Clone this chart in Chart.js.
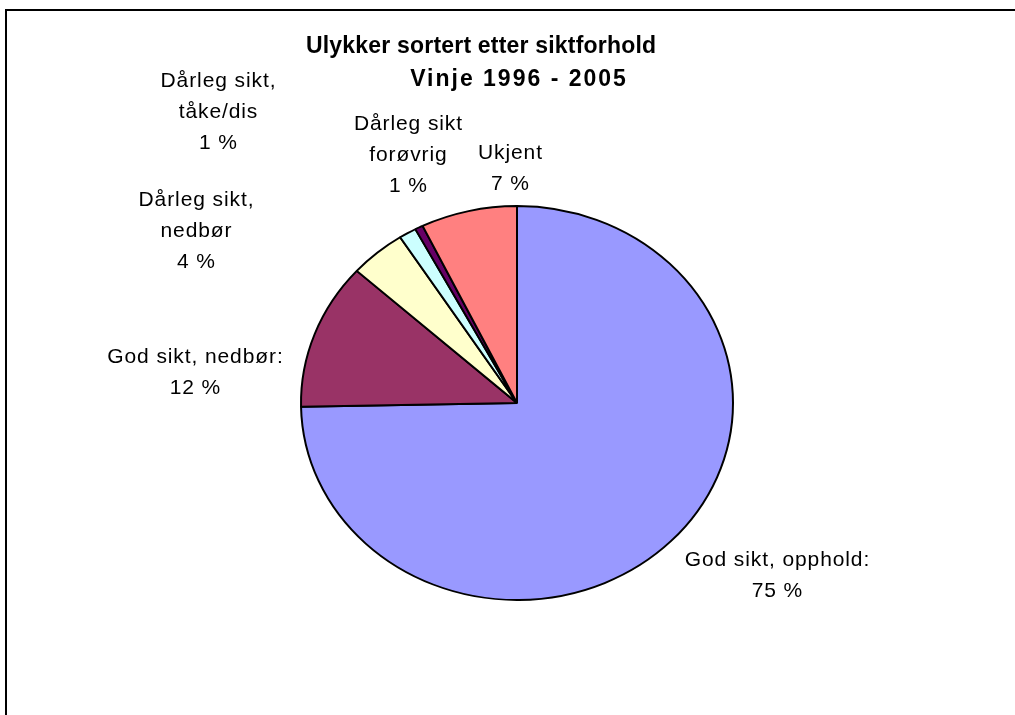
<!DOCTYPE html>
<html>
<head>
<meta charset="utf-8">
<script src="https://cdn.jsdelivr.net/npm/chart.js@4/dist/chart.umd.min.js"></script>
<style>
html,body{margin:0;padding:0;background:#fff;}
canvas{display:block;}
</style>
</head>
<body>
<canvas id="c" width="1015" height="715"></canvas>
<script>
// ---- data ----
const categories = ["God sikt, opphold:", "God sikt, nedbør:", "Dårleg sikt, nedbør", "Dårleg sikt, tåke/dis", "Dårleg sikt forøvrig", "Ukjent"];
const values = [74.7, 12.0, 4.2, 1.3, 0.6, 7.2];
const percentLabels = ["75 %", "12 %", "4 %", "1 %", "1 %", "7 %"];
const labelTextLines = [
  ["God sikt, opphold:"],
  ["God sikt, nedbør:"],
  ["Dårleg sikt,", "nedbør"],
  ["Dårleg sikt,", "tåke/dis"],
  ["Dårleg sikt", "forøvrig"],
  ["Ukjent"]
];
const titleLines = ["Ulykker sortert etter siktforhold", "Vinje 1996 - 2005"];

// ---- styling / layout (not data) ----
const sliceColors = ["#9999FF", "#993366", "#FFFFCC", "#CCFFFF", "#660066", "#FF8080"];
const labelAnchors = [[777, 560], [195, 357], [196, 200], [218, 81], [408, 124], [510, 153]];
const labelLineHeight = 31;
const ellipseScaleY = 197 / 216;

const squashPlugin = {
  id: 'squash',
  beforeDatasetsDraw(chart) {
    const ctx = chart.ctx;
    const arc = chart.getDatasetMeta(0).data[0];
    const cx = arc.x, cy = arc.y;
    ctx.save();
    ctx.translate(cx, cy);
    ctx.scale(1, ellipseScaleY);
    ctx.translate(-cx, -cy);
  },
  afterDatasetsDraw(chart) {
    chart.ctx.restore();
  }
};

function drawSpaced(ctx, text, x, y, spacing) {
  if ('letterSpacing' in ctx) {
    ctx.letterSpacing = spacing + 'px';
    ctx.fillText(text, x + spacing / 2, y);
    ctx.letterSpacing = '0px';
  } else {
    ctx.fillText(text, x, y);
  }
}

const textPlugin = {
  id: 'texts',
  afterDraw(chart) {
    const ctx = chart.ctx;
    ctx.save();
    // frame
    ctx.strokeStyle = '#000';
    ctx.lineWidth = 2;
    ctx.strokeRect(6, 10, 1100, 800);
    // title
    ctx.fillStyle = '#000';
    ctx.textAlign = 'center';
    ctx.textBaseline = 'middle';
    ctx.font = 'bold 23px "Liberation Sans", Arial, sans-serif';
    drawSpaced(ctx, titleLines[0], 481, 47, 0.2);
    drawSpaced(ctx, titleLines[1], 518, 80, 2.0);
    // labels
    ctx.font = '21px "Liberation Sans", Arial, sans-serif';
    labelTextLines.forEach((lines, i) => {
      const [x, y] = labelAnchors[i];
      const all = lines.concat([percentLabels[i]]);
      all.forEach((t, k) => drawSpaced(ctx, t, x, y + k * labelLineHeight, 0.9));
    });
    ctx.restore();
  }
};

new Chart(document.getElementById('c'), {
  type: 'pie',
  data: {
    labels: categories,
    datasets: [{
      data: values,
      backgroundColor: sliceColors,
      borderColor: '#000',
      borderWidth: 2,
      radius: 216
    }]
  },
  options: {
    responsive: false,
    animation: false,
    layout: { padding: { left: 301, right: 282, top: 187, bottom: 96 } },
    plugins: {
      legend: { display: false },
      tooltip: { enabled: false },
      title: { display: false }
    }
  },
  plugins: [squashPlugin, textPlugin]
});
</script>
</body>
</html>
